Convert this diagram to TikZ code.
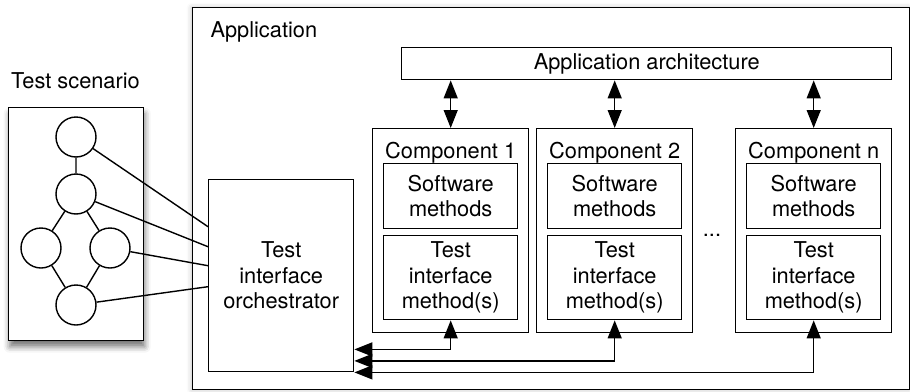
\documentclass[tikz,border=0pt]{standalone}
\usepackage{fontspec}
\setmainfont{TeX Gyre Heros}
\usetikzlibrary{arrows.meta,shadows.blur,calc}

\begin{document}
\begin{tikzpicture}[x=1pt,y=-1pt,
	every node/.style={font=\fontsize{21.8}{25.5}\selectfont},
	box/.style={draw,line width=1.4pt,inner sep=0pt,anchor=north west,align=center},
	state/.style={draw,circle,line width=1.4pt,minimum size=40pt,inner sep=0pt,fill=white},
	link/.style={line width=1.4pt},
	tip/.style={line width=1.4pt,{Triangle[length=18pt,width=14pt]}-{Triangle[length=18pt,width=14pt]}}]
	\useasboundingbox (0,0) rectangle (910,391);
	% test scenario
	\node[box,minimum width=135pt,minimum height=233pt,fill=white,blur shadow={shadow xshift=1pt,shadow yshift=-6pt,shadow blur radius=6pt,shadow opacity=55}] (scen) at (8,107) {};
	\node[anchor=base] (scentitle) at (75.5,88) {Test scenario};
	\node[state] (s1) at (76,137) {};
	\node[state] (s2) at (76,194) {};
	\node[state] (s3) at (41,248) {};
	\node[state] (s4) at (110,248) {};
	\node[state] (s5) at (76,305) {};
	\draw[link] (s1) -- (s2) (s2) -- (s3) (s2) -- (s4) (s3) -- (s5) (s4) -- (s5);
	% application
	\node[box,minimum width=717pt,minimum height=382pt,fill=white,blur shadow={shadow xshift=-1pt,shadow yshift=0pt,shadow blur radius=5pt,shadow opacity=25}] (app) at (192,7) {};
	\node[anchor=base west] (apptitle) at (207,37.5) {Application};
	\node[box,minimum width=490pt,minimum height=32pt] (arch) at (401,47) {Application architecture};
	\node[box,minimum width=145pt,minimum height=192pt] (orch) at (208,179) {Test\\interface\\orchestrator};
	% components
	\node[box,minimum width=156pt,minimum height=204pt] (c1) at (372,128) {};
	\node[anchor=base] (c1t) at ($(c1.north)+(0,30)$) {Component 1};
	\node[box,minimum width=134pt,minimum height=65pt] (sw1) at (383,163) {Software\\methods};
	\node[box,minimum width=134pt,minimum height=84pt] (ti1) at (383,235) {Test\\interface\\method(s)};
	\node[box,minimum width=156pt,minimum height=204pt] (c2) at (536,128) {};
	\node[anchor=base] (c2t) at ($(c2.north)+(0,30)$) {Component 2};
	\node[box,minimum width=134pt,minimum height=65pt] (sw2) at (547,163) {Software\\methods};
	\node[box,minimum width=134pt,minimum height=84pt] (ti2) at (547,235) {Test\\interface\\method(s)};
	\node (dots) at (712,235) {...};
	\node[box,minimum width=156pt,minimum height=204pt] (cn) at (735,128) {};
	\node[anchor=base] (cnt) at ($(cn.north)+(0,30)$) {Component n};
	\node[box,minimum width=134pt,minimum height=65pt] (swn) at (746,163) {Software\\methods};
	\node[box,minimum width=134pt,minimum height=84pt] (tin) at (746,235) {Test\\interface\\method(s)};
	% connectors
	\draw[tip] (c1.north |- arch.south) -- (c1.north);
	\draw[tip] (c2.north |- arch.south) -- (c2.north);
	\draw[tip] (cn.north |- arch.south) -- (cn.north);
	\draw[tip] (ti1.south) |- ([yshift=23pt]orch.south east);
	\draw[tip] (ti2.south) |- ([yshift=11.5pt]orch.south east);
	\draw[tip] (tin.south) |- (orch.south east);
	\draw[link] (s1) -- ([yshift=49pt]orch.west);
	\draw[link] (s2) -- ([yshift=29pt]orch.west);
	\draw[link] (s4) -- ([yshift=10pt]orch.west);
	\draw[link] (s5) -- ([yshift=-11pt]orch.west);
\end{tikzpicture}
\end{document}
